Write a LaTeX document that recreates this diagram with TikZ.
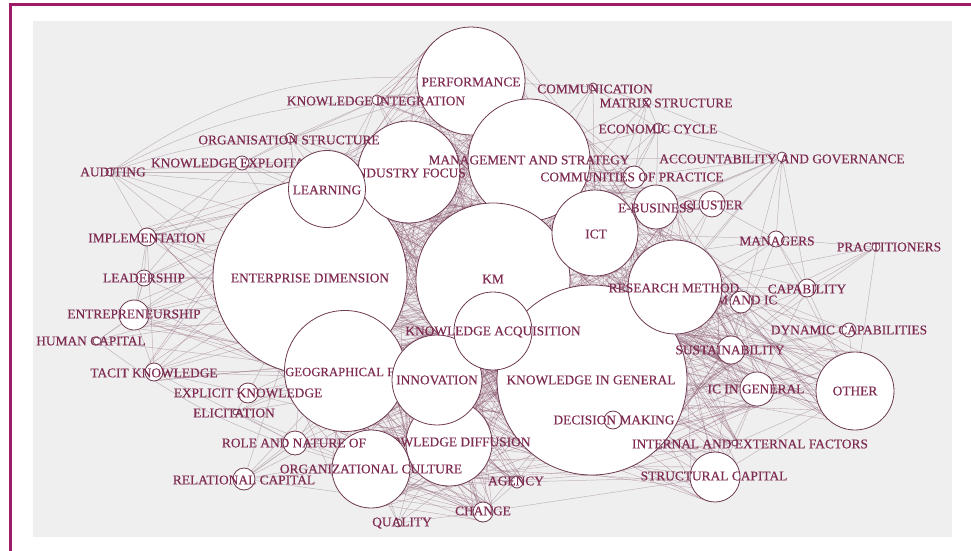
\documentclass[tikz,border=0pt]{standalone}
\usepackage{fontspec}
\newfontfamily\lblfont[FakeBold=0.3]{Liberation Serif}
\definecolor{framec}{HTML}{9E1B66}
\definecolor{bgc}{HTML}{EFEFEF}
\definecolor{txtc}{HTML}{7E2C52}
\definecolor{circc}{HTML}{6F3A52}
\definecolor{edgec}{HTML}{B9ACB3}
\definecolor{hatchc}{HTML}{8F5C74}
\pgfdeclarelayer{bgl}
\pgfdeclarelayer{edgel}
\pgfsetlayers{bgl,edgel,main}
\tikzset{
  nd/.style={circle, draw=circc, line width=0.8pt, fill=white, inner sep=0pt, minimum size=#1},
  lab/.style={font={\lblfont\fontsize{13.4pt}{15pt}\selectfont}, text=txtc, inner sep=0pt},
  el/.style={draw=edgec, line width=0.5pt, opacity=0.85},
  hl/.style={draw=hatchc, line width=0.3pt, opacity=0.6},
  framel/.style={draw=framec, line width=3pt}
}
\newcommand\myhatch[3]{\foreach \k in {1,...,#3}{\pgfmathtruncatemacro\angA{rnd*360}\pgfmathtruncatemacro\angB{rnd*360}\draw[hl] (#1.\angA) -- (#2.\angB);}}
\begin{document}
\begin{tikzpicture}[x=1pt,y=-1pt]
\useasboundingbox (0,0) rectangle (971,551);
\begin{pgfonlayer}{bgl}
\fill[white] (0,0) rectangle (971,551);
\fill[bgc] (33,21) rectangle (952,537);
\draw[framel] (10.5,551) -- (10.5,4.5) -- (971,4.5);
\end{pgfonlayer}
% small nodes
\node[nd=8pt] (auditing) at (110,172) {};
\node[lab] (auditingL) at (113,172) {AUDITING};
\node[nd=14pt] (kexpl) at (242,163) {};
\node[lab] (kexplL) at (243,163) {KNOWLEDGE EXPLOITATION};
\node[nd=10pt] (orgstr) at (290,138) {};
\node[nd=10pt] (kint) at (377,100) {};
\node[nd=8pt] (comm) at (593,87) {};
\node[lab] (commL) at (595,89) {COMMUNICATION};
\node[nd=8pt] (matrix) at (647,102) {};
\node[lab] (matrixL) at (666,103) {MATRIX STRUCTURE};
\node[nd=10pt] (econ) at (658,128) {};
\node[lab] (econL) at (658,129) {ECONOMIC CYCLE};
\node[nd=10pt] (acct) at (782,157) {};
\node[lab] (acctL) at (782,159) {ACCOUNTABILITY AND GOVERNANCE};
\node[nd=18pt] (impl) at (147,237) {};
\node[lab] (implL) at (147,238) {IMPLEMENTATION};
\node[nd=16pt] (managers) at (776,239) {};
\node[lab] (managersL) at (777,241) {MANAGERS};
\node[nd=8pt] (pract) at (876,247) {};
\node[lab] (practL) at (889,247) {PRACTITIONERS};
\node[nd=16pt] (lead) at (144,278) {};
\node[lab] (leadL) at (144,278) {LEADERSHIP};
\node[nd=18pt] (capab) at (807,288) {};
\node[lab] (capabL) at (807,289) {CAPABILITY};
\node[nd=22pt] (kmic) at (741,302) {};
\node[lab] (kmicL) at (742,300) {KM AND IC};
\node[nd=30pt] (entr) at (134,315) {};
\node[lab] (entrL) at (134,314) {ENTREPRENEURSHIP};
\node[nd=14pt] (dyn) at (849,330) {};
\node[lab] (dynL) at (849,330) {DYNAMIC CAPABILITIES};
\node[nd=8pt] (humcap) at (97,341) {};
\node[lab] (humcapL) at (91,341) {HUMAN CAPITAL};
\node[nd=18pt] (tacit) at (154,372) {};
\node[lab] (tacitL) at (154,373) {TACIT KNOWLEDGE};
\node[nd=34pt] (icgen) at (757,389) {};
\node[lab] (icgenL) at (756,389) {IC IN GENERAL};
\node[nd=6pt] (elic) at (236,412) {};
\node[lab] (elicL) at (234,413) {ELICITATION};
\node[nd=22pt] (relcap) at (244,479) {};
\node[lab] (relcapL) at (244,480) {RELATIONAL CAPITAL};
\node[nd=12pt] (agency) at (517,482) {};
\node[lab] (agencyL) at (516,481) {AGENCY};
\node[nd=20pt] (change) at (483,512) {};
\node[lab] (changeL) at (483,511) {CHANGE};
\node[nd=8pt] (quality) at (398,523) {};
\node[lab] (qualityL) at (402,523) {QUALITY};
\node[nd=50pt] (struct) at (715,477) {};
\node[lab] (structL) at (714,476) {STRUCTURAL CAPITAL};
\node[nd=78pt] (other) at (855,391) {};
\node[lab] (otherL) at (855,391) {OTHER};
\node[nd=20pt] (expl) at (248,393) {};
\node[nd=6pt] (ief) at (735,443) {};
% big nodes
\node[nd=194pt] (ed) at (310,277) {};
\node[lab] (edL) at (310,278) {ENTERPRISE DIMENSION};
\node[nd=102pt] (indf) at (409,172) {};
\node[lab] (indfL) at (409,173) {INDUSTRY FOCUS};
\node[lab] (orgstrL) at (289,140) {ORGANISATION STRUCTURE};
\node[nd=77pt] (learn) at (327,189) {};
\node[lab] (learnL) at (327,190) {LEARNING};
\node[nd=108pt] (perf) at (471,81) {};
\node[lab] (perfL) at (471,82) {PERFORMANCE};
\node[lab] (kintL) at (376,101) {KNOWLEDGE INTEGRATION};
\node[nd=122pt] (ms) at (529,160) {};
\node[lab] (msL) at (529,160) {MANAGEMENT AND STRATEGY};
\node[nd=22pt] (cop) at (634,177) {};
\node[lab] (copL) at (632,177) {COMMUNITIES OF PRACTICE};
\node[nd=154pt] (km) at (493,280) {};
\node[lab] (kmL) at (493,279) {KM};
\node[nd=86pt] (ict) at (595,233) {};
\node[lab] (ictL) at (596,234) {ICT};
\node[nd=44pt] (ebus) at (656,207) {};
\node[nd=26pt] (cluster) at (712,204) {};
\node[lab] (ebusL) at (656,208) {E-BUSINESS};
\node[lab] (clusterL) at (713,205) {CLUSTER};
\node[nd=190pt] (kig) at (592,380) {};
\node[lab] (kigL) at (591,380) {KNOWLEDGE IN GENERAL};
\node[nd=28pt] (sust) at (731,350) {};
\node[lab] (sustL) at (730,350) {SUSTAINABILITY};
\node[nd=18pt] (decision) at (613,420) {};
\node[lab] (decisionL) at (614,420) {DECISION MAKING};
\node[lab] (iefL) at (750,444) {INTERNAL AND EXTERNAL FACTORS};
\node[nd=94pt] (rm) at (675,287) {};
\node[lab] (rmL) at (674,288) {RESEARCH METHOD};
\node[nd=121pt] (gf) at (345,371) {};
\node[lab, anchor=west, font={\lblfont\fontsize{12.7pt}{14pt}\selectfont}] (gfL) at (285,372) {GEOGRAPHICAL FOCUS};
\node[lab] (explL) at (248,393) {EXPLICIT KNOWLEDGE};
\node[nd=86pt] (kd) at (449,443) {};
\node[lab] (kdL) at (451,442) {KNOWLEDGE DIFFUSION};
\node[nd=90pt] (innov) at (437,380) {};
\node[lab] (innovL) at (437,380) {INNOVATION};
\node[nd=78pt] (ka) at (493,331) {};
\node[lab] (kaL) at (493,332) {KNOWLEDGE ACQUISITION};
\node[nd=78pt] (oc) at (371,469) {};
\node[lab] (ocL) at (371,469) {ORGANIZATIONAL CULTURE};
\node[nd=24pt] (role) at (295,443) {};
\node[lab] (roleL) at (294,443) {ROLE AND NATURE OF};
% edges
\begin{pgfonlayer}{edgel}
\pgfmathsetseed{7}
\foreach \a/\b in {auditing/ed, auditing/learn, auditing/kexpl, auditing/impl, auditing/indf, auditing/km, auditing/gf,
  kexpl/ed, kexpl/learn, kexpl/indf, kexpl/orgstr, kexpl/kint, kexpl/impl, kexpl/lead, kexpl/ms, kexpl/km,
  orgstr/indf, orgstr/learn, orgstr/kint, orgstr/ed, orgstr/ms, orgstr/perf, orgstr/km,
  kint/indf, kint/perf, kint/ms, kint/learn, kint/ed, kint/km,
  impl/ed, impl/learn, impl/lead, impl/entr, impl/km, impl/gf, impl/tacit, impl/indf,
  lead/ed, lead/entr, lead/km, lead/gf, lead/indf, lead/learn,
  entr/ed, entr/km, entr/gf, entr/tacit, entr/humcap, entr/lead, entr/learn, entr/indf,
  humcap/ed, humcap/gf, humcap/entr, humcap/km,
  tacit/ed, tacit/gf, tacit/expl, tacit/km, tacit/innov, tacit/role, tacit/learn,
  expl/gf, expl/ed, expl/km, expl/innov, expl/elic, expl/kd,
  elic/gf, elic/innov, elic/km, elic/role, elic/oc,
  role/gf, role/oc, role/kd, role/km, role/relcap, role/innov, role/ed,
  relcap/oc, relcap/kd, relcap/gf, relcap/role, relcap/km, relcap/change, relcap/ed, relcap/innov,
  comm/ms, comm/perf, comm/matrix, comm/econ, comm/ict, comm/km,
  matrix/ms, matrix/econ, matrix/ict, matrix/cop, matrix/acct, matrix/km,
  econ/ms, econ/cop, econ/ict, econ/km, econ/acct, econ/ebus,
  acct/ms, acct/ict, acct/ebus, acct/cluster, acct/managers, acct/rm, acct/kig, acct/km, acct/cop, acct/capab, acct/sust,
  cop/ms, cop/ict, cop/ebus, cop/km,
  ebus/ict, ebus/ms, ebus/rm, ebus/cluster, ebus/km,
  cluster/ict, cluster/rm, cluster/managers, cluster/ms, cluster/kig,
  managers/rm, managers/ict, managers/capab, managers/kig, managers/sust, managers/other, managers/km,
  pract/rm, pract/kig, pract/managers, pract/capab, pract/other, pract/sust,
  capab/rm, capab/kig, capab/other, capab/sust, capab/ict, capab/icgen,
  kmic/rm, kmic/kig, kmic/other, kmic/sust, kmic/icgen,
  dyn/rm, dyn/kig, dyn/other, dyn/icgen, dyn/sust, dyn/ict,
  sust/kig, sust/rm, sust/other, sust/icgen, sust/struct,
  icgen/kig, icgen/other, icgen/rm, icgen/ief, icgen/struct,
  other/kig, other/rm, other/ief, other/struct, other/ict, other/km, other/ka,
  ief/kig, ief/struct, ief/rm, ief/km,
  struct/kig, struct/km, struct/change, struct/rm, struct/agency, struct/kd,
  agency/kd, agency/kig, agency/change, agency/oc, agency/innov,
  change/kd, change/oc, change/kig, change/innov, change/quality, change/gf,
  quality/oc, quality/kd, quality/innov, quality/gf, quality/kig}
  {\draw[el] (\a) -- (\b);}
\draw[el] (auditing) to[bend left=18] (perf);
\draw[el] (auditing) to[bend left=12] (kint);
\draw[el] (auditing) to[bend left=8] (orgstr);
\draw[el] (humcap) to[bend right=10] (oc);
\myhatch{ed}{indf}{40}
\myhatch{ed}{km}{60}
\myhatch{indf}{km}{50}
\myhatch{indf}{ms}{40}
\myhatch{km}{ms}{40}
\myhatch{perf}{ms}{25}
\myhatch{perf}{indf}{25}
\myhatch{ms}{ict}{30}
\myhatch{km}{ict}{40}
\myhatch{ict}{rm}{30}
\myhatch{km}{kig}{40}
\myhatch{kig}{rm}{40}
\myhatch{ict}{kig}{30}
\myhatch{ka}{km}{20}
\myhatch{ed}{ka}{30}
\myhatch{ed}{gf}{30}
\myhatch{gf}{ka}{40}
\myhatch{gf}{innov}{30}
\myhatch{innov}{ka}{30}
\myhatch{innov}{kig}{50}
\myhatch{ka}{kig}{30}
\myhatch{innov}{kd}{30}
\myhatch{kd}{kig}{45}
\myhatch{gf}{oc}{25}
\myhatch{oc}{kd}{25}
\myhatch{gf}{kd}{25}
\myhatch{learn}{indf}{20}
\myhatch{learn}{ed}{15}
\myhatch{ebus}{rm}{20}
\myhatch{ebus}{ict}{20}
\myhatch{rm}{sust}{20}
\myhatch{kig}{sust}{20}
\myhatch{rm}{kmic}{12}
\myhatch{kig}{icgen}{18}
\myhatch{rm}{icgen}{14}
\myhatch{kig}{other}{16}
\myhatch{rm}{other}{16}
\myhatch{kig}{struct}{18}
\myhatch{kig}{ief}{10}
\myhatch{kd}{agency}{14}
\myhatch{kd}{change}{14}
\myhatch{oc}{change}{10}
\myhatch{perf}{kint}{10}
\myhatch{ms}{cop}{10}
\myhatch{ed}{entr}{8}
\myhatch{ed}{impl}{8}
\myhatch{ed}{tacit}{6}
\end{pgfonlayer}
\end{tikzpicture}
\end{document}
